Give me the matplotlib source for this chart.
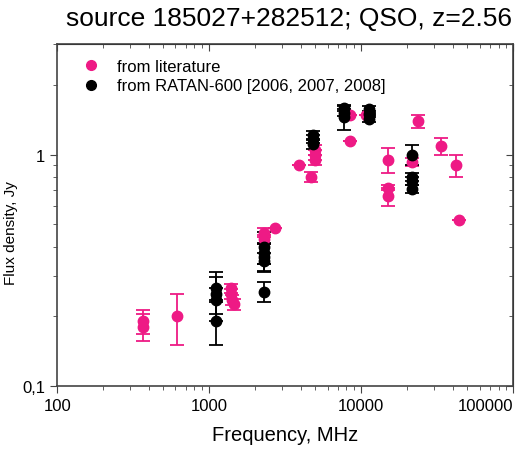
import numpy as np
import matplotlib.pyplot as plt
from matplotlib.lines import Line2D
from matplotlib.ticker import FixedLocator, LogLocator, NullFormatter

plt.rcParams['font.family'] = ['Liberation Sans', 'DejaVu Sans']

# literature points: frequency (MHz), flux (Jy), error (Jy)
lit_freq = [365, 365, 610, 1400, 1400, 1420, 1450, 2300, 2300, 2700, 3900, 4700,
            5000, 5000, 5000, 8400, 8400, 10700, 15000, 15000, 15000, 21700,
            23700, 33600, 42200, 44200]
lit_flux = [0.19, 0.18, 0.20, 0.265, 0.25, 0.235, 0.225, 0.46, 0.43, 0.48, 0.90, 0.80,
            1.05, 1.00, 0.95, 1.49, 1.15, 1.49, 0.95, 0.72, 0.66, 0.93,
            1.39, 1.09, 0.90, 0.52]
lit_err = [0.022, 0.024, 0.05, 0.012, 0.012, 0.012, 0.012, 0.02, 0.02, 0, 0, 0.04,
           0.05, 0.05, 0.05, 0, 0, 0, 0.12, 0.02, 0.06, 0.04,
           0.09, 0.09, 0.10, 0]

# RATAN-600 points
rat_freq = [1100, 1100, 1100, 1100, 2300, 2300, 2300, 2300, 2300,
            4800, 4800, 4800, 7700, 7700, 7700, 11200, 11200, 11200,
            21700, 21700, 21700, 21700]
rat_flux = [0.265, 0.25, 0.235, 0.19, 0.40, 0.375, 0.36, 0.345, 0.255,
            1.22, 1.17, 1.11, 1.59, 1.52, 1.45, 1.57, 1.50, 1.43,
            1.00, 0.80, 0.77, 0.71]
rat_err = [0.03, 0.06, 0.03, 0.04, 0.065, 0.04, 0.05, 0.03, 0.025,
           0.05, 0.05, 0.05, 0.05, 0.05, 0.17, 0.05, 0.05, 0.05,
           0.10, 0.03, 0.03, 0.03]

pink = '#ee1a85'
spine_col = '#444444'

fig = plt.figure(figsize=(5.2, 4.52), dpi=100)
ax = fig.add_axes([0.11, 0.144, 0.877, 0.756])

ax.errorbar(lit_freq, lit_flux, yerr=lit_err, fmt='o', color=pink, ms=7.5,
            capsize=5, elinewidth=1.3, capthick=1.3)
ax.errorbar(rat_freq, rat_flux, yerr=rat_err, fmt='o', color='black', ms=7.5,
            capsize=5, elinewidth=1.3, capthick=1.3)

ax.set_xscale('log')
ax.set_yscale('log')
ax.set_xlim(100, 100000)
ax.set_ylim(0.1, 3)

ax.xaxis.set_major_locator(FixedLocator([100, 1000, 10000, 100000]))
ax.set_xticklabels(['100', '1000', '10000', '100000'])
ax.get_xticklabels()[-1].set_ha('right')
ax.xaxis.set_minor_locator(LogLocator(base=10, subs=np.arange(2, 10)))
ax.xaxis.set_minor_formatter(NullFormatter())
ax.yaxis.set_major_locator(FixedLocator([0.1, 1]))
ax.set_yticklabels(['0,1', '1'])
ax.yaxis.set_minor_locator(LogLocator(base=10, subs=np.arange(2, 10)))
ax.yaxis.set_minor_formatter(NullFormatter())

ax.tick_params(which='both', direction='out', top=False, right=False, labelsize=12,
               color=spine_col)
ax.tick_params(which='major', length=5)
ax.tick_params(which='minor', length=3)

# mirrored inside ticks on top and right
axt = ax.secondary_xaxis('top')
axt.xaxis.set_major_locator(FixedLocator([100, 1000, 10000, 100000]))
axt.xaxis.set_minor_locator(LogLocator(base=10, subs=np.arange(2, 10)))
axt.tick_params(which='both', direction='in', labeltop=False, color=spine_col)
axt.tick_params(which='major', length=5)
axt.tick_params(which='minor', length=3)
axr = ax.secondary_yaxis('right')
axr.yaxis.set_major_locator(FixedLocator([0.1, 1]))
axr.yaxis.set_minor_locator(LogLocator(base=10, subs=np.arange(2, 10)))
axr.tick_params(which='both', direction='in', labelright=False, color=spine_col)
axr.tick_params(which='major', length=5)
axr.tick_params(which='minor', length=3)

for s in ax.spines.values():
    s.set_color(spine_col)
    s.set_linewidth(1.2)

ax.set_xlabel('Frequency, MHz', fontsize=14.5, labelpad=9)
ax.set_ylabel('Flux density, Jy', fontsize=11)
ax.yaxis.set_label_coords(-0.085, 0.45)
fig.text(0.555, 0.958, 'source 185027+282512; QSO, z=2.56', ha='center', va='center',
         fontsize=19)

handles = [Line2D([], [], marker='o', ls='none', color=pink, ms=7),
           Line2D([], [], marker='o', ls='none', color='black', ms=7)]
ax.legend(handles, ['from literature', 'from RATAN-600 [2006, 2007, 2008]'],
          loc='upper left', frameon=False, fontsize=12, handletextpad=0.5,
          borderaxespad=0.5, labelspacing=0.25, borderpad=0.4,
          handlelength=2.2)

fig.savefig('out.png', dpi=100)
